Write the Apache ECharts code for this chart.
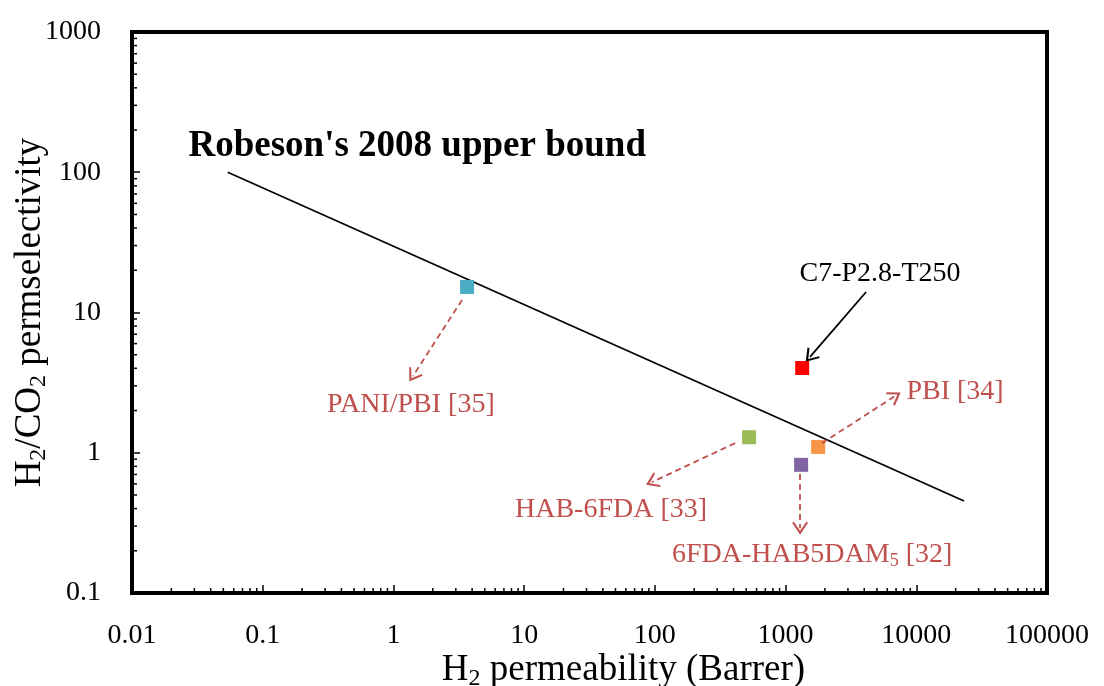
<!DOCTYPE html>
<html>
<head>
<meta charset="utf-8">
<script src="https://cdn.jsdelivr.net/npm/echarts@6/dist/echarts.min.js"></script>
<style>
html,body{margin:0;padding:0;background:#fff;}
#chart{width:1104px;height:686px;}
</style>
</head>
<body>
<div id="chart"></div>
<script>
// ---- data ----
const materials = ['PANI/PBI [35]', 'C7-P2.8-T250', 'HAB-6FDA [33]', 'PBI [34]', '6FDA-HAB5DAM5 [32]'];
const h2Permeability = [3.66, 1340, 526, 1775, 1315];
const h2co2Selectivity = [15.2, 4.02, 1.29, 1.10, 0.82];
const markerColors = ['#4BACC6', '#FF0000', '#9BBB59', '#F79646', '#8064A2'];
const upperBoundX = [0.054, 23200];
const upperBoundY = [100, 0.453];
const xTickLabels = ['0.01', '0.1', '1', '10', '100', '1000', '10000', '100000'];
const yTickLabels = ['0.1', '1', '10', '100', '1000'];
const xMinorTicks = [];
[-2, -1, 0, 1, 2, 3, 4].forEach(e => { for (let m = 2; m <= 9; m++) xMinorTicks.push(m * Math.pow(10, e)); });
const yMinorTicks = [];
[-1, 0, 1, 2].forEach(e => { for (let m = 2; m <= 9; m++) yMinorTicks.push(m * Math.pow(10, e)); });

const FONT = '"Liberation Serif", "Times New Roman", serif';
const ANN = '#C0504D';

function labelFor(list, minExp) {
  return function (v) {
    const idx = Math.round(Math.log10(v)) - minExp;
    return list[idx] !== undefined ? list[idx] : '';
  };
}

const chevron = 'path://M0,0 L6,10 L4.7,10.9 L0,3.2 L-4.7,10.9 L-6,10 Z';

// annotation arrows (data coordinates)
const arrowDefs = [
  { from: [3.35, 12.3], to: [1.41, 3.52], color: ANN, dashed: true },
  { from: [411, 1.17], to: [95, 0.618], color: ANN, dashed: true },
  { from: [1902, 1.17], to: [6890, 2.54], color: ANN, dashed: true },
  { from: [1291, 0.706], to: [1291, 0.29], color: ANN, dashed: true },
  { from: [4130, 14.0], to: [1538, 4.82], color: '#000', dashed: false }
];
const labelDefs = [
  { at: [1.36, 2.22], text: 'PANI/PBI [35]', color: ANN },
  { at: [46.2, 0.396], text: 'HAB-6FDA [33]', color: ANN },
  { at: [19800, 2.71], text: 'PBI [34]', color: ANN },
  { at: [1596, 0.187], text: '6FDA-HAB5DAM{s|5} [32]', color: ANN },
  { at: [5280, 18.8], text: 'C7-P2.8-T250', color: '#000' },
  { at: [1.52, 154], text: "Robeson's 2008 upper bound", color: '#000', bold: true }
];

const chart = echarts.init(document.getElementById('chart'), null, { renderer: 'canvas' });

const minorTickSeries = (data, isX) => ({
  type: 'custom',
  silent: true,
  clip: false,
  z: 5,
  data: data.map(v => isX ? [v, 0.1] : [0.01, v]),
  renderItem: function (params, api) {
    const p = api.coord([api.value(0), api.value(1)]);
    const L = 5;
    return {
      type: 'line',
      shape: isX ? { x1: p[0], y1: p[1], x2: p[0], y2: p[1] - L } : { x1: p[0], y1: p[1], x2: p[0] + L, y2: p[1] },
      style: { stroke: '#000', lineWidth: 1.5 }
    };
  }
});

const nameRich = {
  n: { fontFamily: FONT, fontSize: 37, color: '#000', lineHeight: 44 },
  s: { fontFamily: FONT, fontSize: 24, color: '#000', lineHeight: 44, padding: [18, 0, 0, 0] }
};

const option = {
  backgroundColor: '#fff',
  animation: false,
  textStyle: { fontFamily: FONT },
  grid: {
    left: 132, right: 57, top: 32, bottom: 93,
    containLabel: false, outerBoundsMode: 'none',
    show: true, borderColor: '#000', borderWidth: 4, backgroundColor: 'transparent'
  },
  xAxis: {
    type: 'log', logBase: 10, min: 0.01, max: 100000, interval: 1,
    name: '{n|H}{s|2}{n| permeability (Barrer)}',
    nameLocation: 'middle', nameGap: 55, nameMoveOverlap: false,
    nameTextStyle: { padding: [0, 0, 0, 68], rich: nameRich },
    axisLine: { show: true, lineStyle: { color: '#000', width: 4 } },
    axisTick: { show: true, inside: true, length: 8, lineStyle: { color: '#000', width: 1.5 } },
    minorTick: { show: false },
    splitLine: { show: false },
    axisLabel: {
      formatter: labelFor(xTickLabels, -2), margin: 29,
      fontFamily: FONT, fontSize: 28, color: '#000'
    }
  },
  yAxis: {
    type: 'log', logBase: 10, min: 0.1, max: 1000, interval: 1,
    name: '{n|H}{s|2}{n|/CO}{s|2}{n| permselectivity}',
    nameLocation: 'middle', nameGap: 80, nameRotate: 90, nameMoveOverlap: false,
    nameTextStyle: { rich: nameRich },
    axisLine: { show: true, lineStyle: { color: '#000', width: 4 } },
    axisTick: { show: true, inside: true, length: 8, lineStyle: { color: '#000', width: 1.5 } },
    minorTick: { show: false },
    splitLine: { show: false },
    axisLabel: {
      formatter: labelFor(yTickLabels, -1), margin: 31,
      fontFamily: FONT, fontSize: 28, color: '#000'
    }
  },
  series: [
    {
      type: 'line',
      name: 'upper bound',
      data: upperBoundX.map((x, i) => [x, upperBoundY[i]]),
      showSymbol: false, symbol: 'none',
      lineStyle: { color: '#000', width: 1.8 },
      z: 3,
      markLine: {
        silent: true,
        animation: false,
        symbol: ['none', chevron],
        symbolSize: [16, 13],
        label: { show: false },
        data: arrowDefs.map(a => [
          { coord: a.from, lineStyle: { color: a.color, type: a.dashed ? [6, 4] : 'solid', width: 1.8, opacity: 1 } },
          { coord: a.to }
        ])
      },
      markPoint: {
        silent: true,
        animation: false,
        data: labelDefs.map(l => ({
          coord: l.at,
          symbol: 'circle',
          symbolSize: 0,
          label: {
            show: true, position: 'inside', formatter: l.text,
            fontFamily: FONT,
            fontSize: l.bold ? 37 : 28,
            fontWeight: l.bold ? 'bold' : 'normal',
            color: l.color,
            rich: {
              s: { fontFamily: FONT, fontSize: 18, color: l.color, padding: [12, 0, 0, 0] }
            }
          }
        }))
      }
    },
    {
      type: 'scatter',
      name: 'materials',
      symbol: 'rect',
      symbolSize: 14,
      z: 4,
      data: materials.map((m, i) => ({
        name: m,
        value: [h2Permeability[i], h2co2Selectivity[i]],
        itemStyle: { color: markerColors[i], opacity: 1 }
      }))
    },
    minorTickSeries(xMinorTicks, true),
    minorTickSeries(yMinorTicks, false)
  ]
};
chart.setOption(option);
</script>
</body>
</html>
